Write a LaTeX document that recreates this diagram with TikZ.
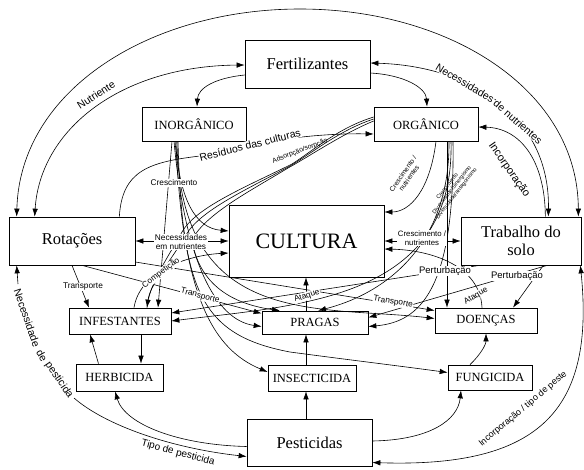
\documentclass[tikz,border=0pt]{standalone}
\usepackage{fontspec}
\setmainfont{Liberation Serif}
\newfontfamily\labf{Liberation Sans}
\usetikzlibrary{arrows.meta}
\begin{document}
\begin{tikzpicture}[x=1pt,y=-1pt,line width=0.6pt,
  >={Latex[length=8pt,width=5.5pt]},
  bx/.style={draw, line width=0.7pt, fill=white, inner sep=0pt, align=center},
  bigbx/.style={bx, font=\fontsize{16.5}{18.5}\selectfont},
  smbx/.style={bx, font=\fontsize{12.5}{14}\selectfont},
  labL/.style={font=\labf\fontsize{10.5}{12}\selectfont, fill=white, inner sep=0.6pt, align=center},
  labM/.style={font=\labf\fontsize{8.3}{9.3}\selectfont, fill=white, inner sep=0.6pt, align=center},
  labS/.style={font=\labf\fontsize{6.8}{7.4}\selectfont, inner sep=0.4pt, align=center},
  labXS/.style={font=\labf\fontsize{5.6}{5.8}\selectfont, inner sep=0.3pt, align=center}
]
\useasboundingbox (0,0) rectangle (584,469);

% boxes
\node[bigbx, minimum width=125pt, minimum height=48pt] (fert) at (307.5,64) {Fertilizantes};
\node[smbx, minimum width=104pt, minimum height=34pt] (inorg) at (194,124) {INORGÂNICO};
\node[smbx, minimum width=104pt, minimum height=34pt] (org) at (426,124) {ORGÂNICO};
\node[bx, font=\fontsize{22}{24}\selectfont, minimum width=155pt, minimum height=72pt] (cult) at (306.5,241) {CULTURA};
\node[bigbx, minimum width=126pt, minimum height=48pt] (rot) at (72,241) {Rotações};
\node[bigbx, minimum width=120pt, minimum height=48pt] (trab) at (521,241) {Trabalho do\\solo};
\node[smbx, minimum width=102pt, minimum height=26pt] (inf) at (120,321) {INFESTANTES};
\node[smbx, minimum width=87pt, minimum height=27pt] (herb) at (119.5,377.5) {HERBICIDA};
\node[smbx, minimum width=106pt, minimum height=23pt] (prag) at (315,322.5) {PRAGAS};
\node[smbx, minimum width=88pt, minimum height=26pt] (insect) at (312,378) {INSECTICIDA};
\node[smbx, minimum width=84pt, minimum height=25pt] (fung) at (490,377.5) {FUNGICIDA};
\node[smbx, minimum width=102pt, minimum height=25pt] (doen) at (486,320.5) {DOENÇAS};
\node[bigbx, minimum width=125pt, minimum height=47pt] (pest) at (309.5,442.5) {Pesticidas};

\coordinate (np1) at (18,284);
\coordinate (np2) at (74,398);

% outer arcs
\draw[<->] ([xshift=8pt]rot.north west) .. controls (20,90) and (150,9) .. (300,9) .. controls (450,9) and (578,90) .. ([xshift=-3pt]trab.north east);
\draw[<->] ([xshift=26pt]rot.north west) .. controls (40,130) and (120,66) .. ([yshift=-1pt]fert.west);
\draw[<->] ([yshift=1pt]fert.east) .. controls (470,66) and (550,115) .. ([xshift=-33pt]trab.north east);
\draw[->] ([xshift=-36pt]trab.north east) .. controls (545,160) and (520,128) .. ([yshift=-3pt]org.east);

% fertilizantes
\draw[->] ([yshift=-11pt]fert.west) .. controls (215,78) and (198,88) .. ([xshift=3pt]inorg.north);
\draw[->] ([yshift=-9pt]fert.east) .. controls (405,75) and (426,88) .. ([xshift=1pt]org.north);

% horizontal
\draw[<->] (rot.east) -- (cult.west);
\draw[<->] (cult.east) -- (trab.west);

% residuos
\draw[->] ([xshift=-16pt]rot.north east) .. controls (122,170) and (150,162) .. (200,156) .. controls (260,140) and (320,133) .. ([yshift=-10pt]org.west);

% adsorpcao bundle
\draw[->] ([yshift=5pt]org.west) .. controls (340,130) and (312,153) .. (290,166) .. controls (250,188) and (200,210) .. (186,235) .. controls (168,265) and (150,285) .. ([xshift=27pt]inf.north);
\draw[->] ([yshift=3pt]org.west) .. controls (342,134) and (310,156) .. (288,168) .. controls (252,190) and (205,214) .. (192,240) .. controls (200,290) and (240,305) .. ([xshift=-35pt]prag.north);
\draw ([yshift=7pt]org.west) .. controls (338,128) and (314,150) .. (292,164) .. controls (248,186) and (196,207) .. (182,232) .. controls (165,262) and (149,285) .. ([xshift=27pt]inf.north);

% inorganico fan
\draw[->] ([xshift=-19pt]inorg.south) .. controls (180,200) and (195,228) .. ([yshift=10pt]cult.west);
\draw[->] ([xshift=-22pt]inorg.south) -- ([xshift=38pt]inf.north);
\draw[->] ([xshift=-20pt]inorg.south) .. controls (185,260) and (215,320) .. ([yshift=-4pt]prag.west);
\draw[->] ([xshift=-17pt]inorg.south) .. controls (180,330) and (320,305) .. ([yshift=2pt]doen.west);
\draw[->] ([xshift=-18pt]inorg.south) .. controls (182,300) and (215,350) .. ([yshift=6pt]insect.west);
\draw[->] ([xshift=-16pt]inorg.south) .. controls (182,290) and (200,335) .. (290,352) .. controls (350,360) and (400,366) .. ([yshift=5pt]fung.west);

% organico
\draw[->] ([xshift=10pt]org.south) .. controls (430,190) and (410,212) .. ([yshift=29pt]cult.east);
\draw[->] ([xshift=21pt]org.south) -- ([xshift=-39pt]doen.north);
\draw[->] ([xshift=23pt]org.south) .. controls (450,250) and (380,295) .. ([xshift=3pt]prag.north);
\draw[->] ([xshift=25pt]org.south) .. controls (455,300) and (300,305) .. (inf.east);
\draw[->] ([xshift=27pt]org.south) .. controls (455,290) and (420,322) .. ([yshift=-4pt]prag.east);

% trabalho
\draw[->] ([xshift=19pt]trab.south west) -- ([yshift=8pt]inf.east);
\draw[->] ([xshift=-34pt]trab.south east) -- ([yshift=5pt]prag.east);
\draw[->] ([xshift=-38pt]trab.south east) -- ([xshift=27pt]doen.north);

% ataque
\draw[->] ([xshift=-4pt]doen.north) .. controls (480,265) and (430,250) .. ([yshift=-8pt]cult.east);
\draw[->] ([xshift=-9pt]prag.north) -- ([xshift=-0.5pt]cult.south);

% rotacoes transport
\draw[->] (rot.south) -- ([xshift=-31pt]inf.north);
\draw[->] ([xshift=10pt]rot.south) -- ([yshift=9pt]prag.west);
\draw[->] ([yshift=-21pt]rot.east) -- ([yshift=10pt]doen.west);

% competicao
\draw[->] ([xshift=14pt]inf.north) .. controls (140,270) and (190,255) .. ([yshift=-12pt]cult.west);

% bottom
\draw[->] ([xshift=-21pt]herb.north) -- ([xshift=-30pt]inf.south);
\draw[->] ([xshift=21pt]inf.south) -- ([xshift=21.5pt]herb.north);
\draw[->] ([yshift=-4pt]pest.west) .. controls (180,445) and (125,425) .. ([xshift=-4.5pt]herb.south);
\draw[->] (np1) -- ([xshift=8pt]rot.south west);
\draw[->] (np2) .. controls (105,425) and (170,448) .. ([yshift=-14pt]pest.west);
\draw[->] ([xshift=-3.5pt]pest.north) -- ([xshift=-6pt]insect.south);
\draw[->] ([xshift=-6pt]insect.north) -- ([xshift=-9pt]prag.south);
\draw[->] ([yshift=1.5pt]pest.east) .. controls (430,440) and (458,420) .. ([xshift=-29pt]fung.south);
\draw[->] ([xshift=-20pt]fung.north) .. controls (480,355) and (486,345) .. (doen.south);
\draw[<->] ([xshift=-1pt]trab.south east) .. controls (595,410) and (540,468) .. ([yshift=-20pt]pest.east);

% labels
\node[labL, fill=none, rotate=33] (lnutr) at (96,95) {Nutriente};
\node[labL, rotate=-31] (lnec1) at (465,83) {Necessidades};
\node[labL, rotate=-41] (lnec2) at (518,122) {de nutrientes};
\node[labL, fill=none, rotate=-55, font=\labf\fontsize{11}{12}\selectfont] (linc) at (509,170) {Incorporação};
\node[labL, rotate=14] (lres) at (250,145) {Resíduos das culturas};
\node[labS, rotate=21] (lads) at (300,151) {Adsorpção/sorpção};
\node[labM] (lcres) at (174,183) {Crescimento};
\node[labM] (lnecn) at (181,242) {Necessidades\\em nutrientes};
\node[labM, font=\labf\fontsize{7.8}{8.8}\selectfont] (lcresn) at (422,238) {Crescimento /\\nutrientes};
\node[labS, rotate=55] (lcresn2) at (406,176) {Crescimento /\\nutrientes};
\node[labXS, rotate=52] (ldiv) at (452,190) {Crescimento\\Diversidade/Sinergismo\\Diversidade/antagonismo};
\node[labM, rotate=37] (lcomp) at (161,273) {Competição};
\node[labM] (ltr1) at (83,287) {Transporte};
\node[labM, rotate=-15] (ltr2) at (200,296) {Transporte};
\node[labM, rotate=-9] (ltr3) at (393,302) {Transporte};
\node[labM, rotate=18] (lat1) at (307,296) {Ataque};
\node[labM, rotate=32] (lat2) at (476,296) {Ataque};
\node[labM, font=\labf\fontsize{9.5}{10.5}\selectfont] (lpert1) at (445,271) {Perturbação};
\node[labM, font=\labf\fontsize{9.5}{10.5}\selectfont] (lpert2) at (517,276) {Perturbação};
\node[labL, fill=none, rotate=-71] (lnp1) at (27,318) {Necessidade};
\node[labL, fill=none, rotate=-60] (lnp2) at (42,356) {de};
\node[labL, fill=none, rotate=-56] (lnp3) at (59,380) {pesticida};
\node[labL, fill=none, rotate=-15, font=\labf\fontsize{10}{11}\selectfont] (ltipo) at (178,453) {Tipo de pesticida};
\node[labM, fill=none, rotate=40, font=\labf\fontsize{9}{10}\selectfont] (lincp) at (523,409) {Incorporação / tipo de peste};
\end{tikzpicture}
\end{document}
